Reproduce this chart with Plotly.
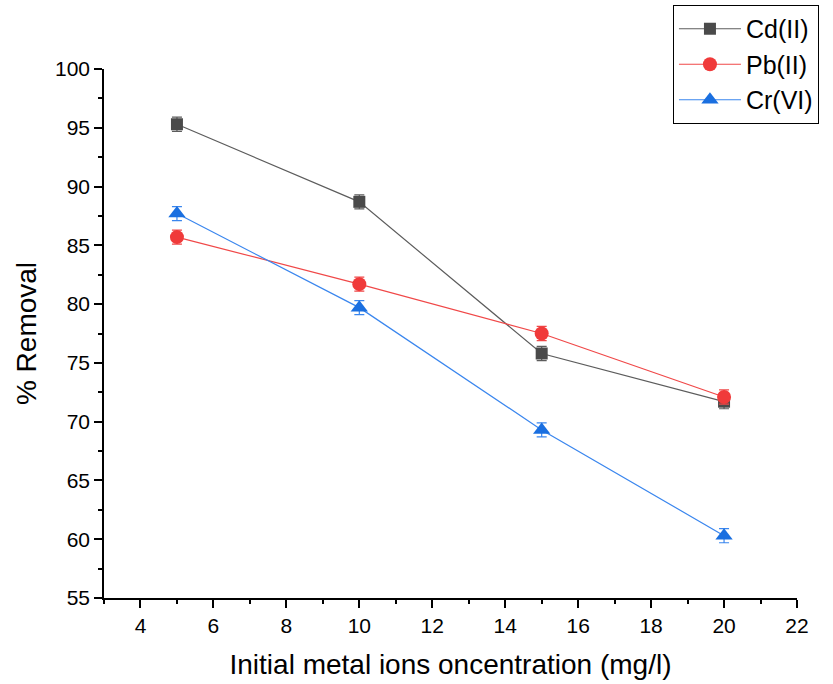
import plotly.graph_objects as go

concentration = [5, 10, 15, 20]
cd_removal = [95.3, 88.7, 75.8, 71.7]
pb_removal = [85.7, 81.7, 77.5, 72.1]
cr_removal = [87.7, 79.7, 69.3, 60.3]
cd_err = [0.6, 0.6, 0.6, 0.6]
pb_err = [0.6, 0.6, 0.6, 0.6]
cr_err = [0.6, 0.6, 0.6, 0.6]

series = [
    ("Cd(II)", cd_removal, cd_err, "#4a4a4a", "#5c5c5c", "square", 12),
    ("Pb(II)", pb_removal, pb_err, "#f03a3a", "#f04848", "circle", 14),
    ("Cr(VI)", cr_removal, cr_err, "#1a6fe0", "#3a86ee", "triangle-up", 15),
]

fig = go.Figure()
for name, vals, err, mcol, lcol, sym, size in series:
    fig.add_trace(go.Scatter(
        x=concentration, y=vals, name=name, mode="lines+markers",
        line=dict(color=lcol, width=1.2),
        marker=dict(color=mcol, symbol=sym, size=size, line=dict(width=0)),
        error_y=dict(type="data", array=err, visible=True, color=lcol,
                     thickness=1.2, width=5),
    ))

family = "Liberation Sans, Arial, sans-serif"
axis_font = dict(family=family, size=21, color="black")
fig.update_layout(
    width=833, height=684,
    margin=dict(l=104, r=36, t=69, b=86, autoexpand=False),
    plot_bgcolor="white", paper_bgcolor="white",
    font=dict(family=family, color="black"),
    legend=dict(
        x=0.821, y=1.121, xanchor="left", yanchor="top",
        bordercolor="black", borderwidth=1, bgcolor="white",
        font=dict(size=25, family=family),
        itemwidth=62, tracegroupgap=0,
    ),
    xaxis=dict(
        range=[3, 22], tickvals=[4, 6, 8, 10, 12, 14, 16, 18, 20, 22],
        showline=True, linecolor="black", linewidth=1.5,
        ticks="outside", ticklen=8, tickwidth=1.5, tickcolor="black",
        minor=dict(tickvals=[3, 5, 7, 9, 11, 13, 15, 17, 19, 21],
                   ticks="outside", ticklen=4, tickcolor="black", tickwidth=1.5),
        showgrid=False, zeroline=False, tickfont=axis_font,
        title=dict(text="Initial metal ions oncentration (mg/l)",
                   font=dict(size=28), standoff=18),
        automargin=False,
    ),
    yaxis=dict(
        range=[55, 100], tickvals=[55, 60, 65, 70, 75, 80, 85, 90, 95, 100],
        showline=True, linecolor="black", linewidth=1.5,
        ticks="outside", ticklen=8, tickwidth=1.5, tickcolor="black",
        minor=dict(tickvals=[57.5, 62.5, 67.5, 72.5, 77.5, 82.5, 87.5, 92.5, 97.5],
                   ticks="outside", ticklen=4, tickcolor="black", tickwidth=1.5),
        showgrid=False, zeroline=False, tickfont=axis_font,
        title=dict(text="% Removal", font=dict(size=28), standoff=10),
        automargin=False,
    ),
)

fig.write_html("out.html")
